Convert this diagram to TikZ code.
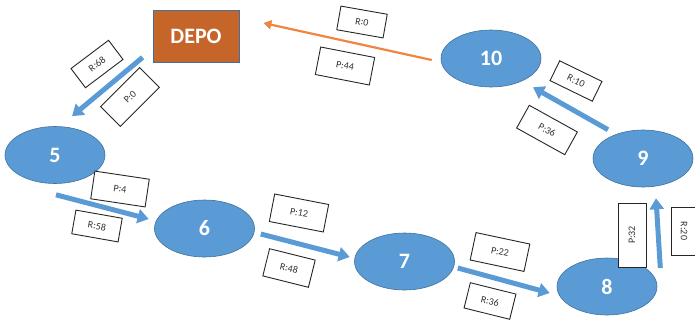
\documentclass[tikz,border=0pt]{standalone}
\usepackage{fontspec}
\setmainfont{Carlito}
\usetikzlibrary{shapes.geometric,arrows.meta}
\definecolor{stopblue}{HTML}{5B9BD5}
\definecolor{stopline}{HTML}{41719C}
\definecolor{depobrown}{HTML}{C5652A}
\definecolor{backorange}{HTML}{EF8540}

\begin{document}
\begin{tikzpicture}[x=1pt,y=-1pt,
    stopnode/.style={ellipse, fill=stopblue, draw=stopline, line width=0.6pt, minimum width=100pt, minimum height=57pt, inner sep=0pt, text=white, font=\fontsize{22}{24}\selectfont\bfseries},
    deponode/.style={rectangle, fill=depobrown, draw=stopline, line width=0.8pt, minimum width=86pt, minimum height=52pt, text=white, font=\fontsize{22}{24}\selectfont\bfseries},
    tag/.style={rectangle, draw=black!85, line width=0.9pt, fill=white, inner sep=0pt, text=black!80, font=\fontsize{10}{12}\selectfont},
    ptag/.style={tag, minimum width=55pt, minimum height=28pt},
    rtag/.style={tag, minimum width=47pt, minimum height=24pt},
    flow/.style={draw=stopblue, line width=5pt, -{Triangle[length=11pt,width=14pt]}},
    back/.style={draw=backorange, line width=2.2pt, -{Triangle[length=8pt,width=9pt]}}
    ]
    \useasboundingbox (0,0) rectangle (695,325);

    \node [deponode] (depo) at (196,36) {DEPO};
    \node [stopnode] (n5) at (55,155) {5};
    \node [stopnode] (n6) at (204.5,228.5) {6};
    \node [stopnode] (n7) at (404.5,261.5) {7};
    \node [stopnode] (n8) at (607,286.5) {8};
    \node [stopnode] (n9) at (643,158.5) {9};
    \node [stopnode] (n10) at (491,58.5) {10};

    \draw [flow] ([shift={(-10,-5)}]depo.south west) -- ([shift={(17,-10)}]n5.north);
    \draw [flow] ([shift={(1,11)}]n5.south) -- ([shift={(-5.5,-9.5)}]n6.west);
    \draw [flow] ([shift={(6,5.5)}]n6.east) -- ([shift={(-4.5,-4.5)}]n7.west);
    \draw [flow] ([shift={(3,6.5)}]n7.east) -- ([shift={(-7,6.5)}]n8.west);
    \draw [flow] ([shift={(3,-18.5)}]n8.east) -- ([shift={(13,11)}]n9.south);
    \draw [flow] ([shift={(-35,0)}]n9.north) -- ([shift={(42,0)}]n10.south);
    \draw [back] ([shift={(-9,1.5)}]n10.west) -- ([shift={(24,-13)}]depo.east);

    \node [rtag, rotate=37] (r68) at (97,64) {R:68};
    \node [ptag, rotate=45] (p0) at (130,97) {P:0};
    \node [ptag, rotate=-8.5] (p4) at (120,189) {P:4};
    \node [rtag, rotate=-10] (r58) at (97,226) {R:58};
    \node [ptag, rotate=-11] (p12) at (299,213) {P:12};
    \node [rtag, rotate=-14, minimum height=28pt] (r48) at (289,268) {R:48};
    \node [ptag, rotate=-12] (p22) at (500,252) {P:22};
    \node [rtag, rotate=-14, minimum height=26pt] (r36) at (490,301) {R:36};
    \node [ptag, rotate=90, minimum width=64pt] (p32) at (632,235) {P:32};
    \node [rtag, rotate=-90, minimum width=48pt, minimum height=26pt] (r20) at (684,231) {R:20};
    \node [ptag, rotate=-29, minimum height=26pt] (p36) at (547,130) {P:36};
    \node [rtag, rotate=-26, minimum height=22pt] (r10) at (576,81) {R:10};
    \node [rtag, rotate=-10] (r0) at (362,22) {R:0};
    \node [ptag, rotate=-11] (p44) at (345,66) {P:44};
  \end{tikzpicture}
\end{document}
